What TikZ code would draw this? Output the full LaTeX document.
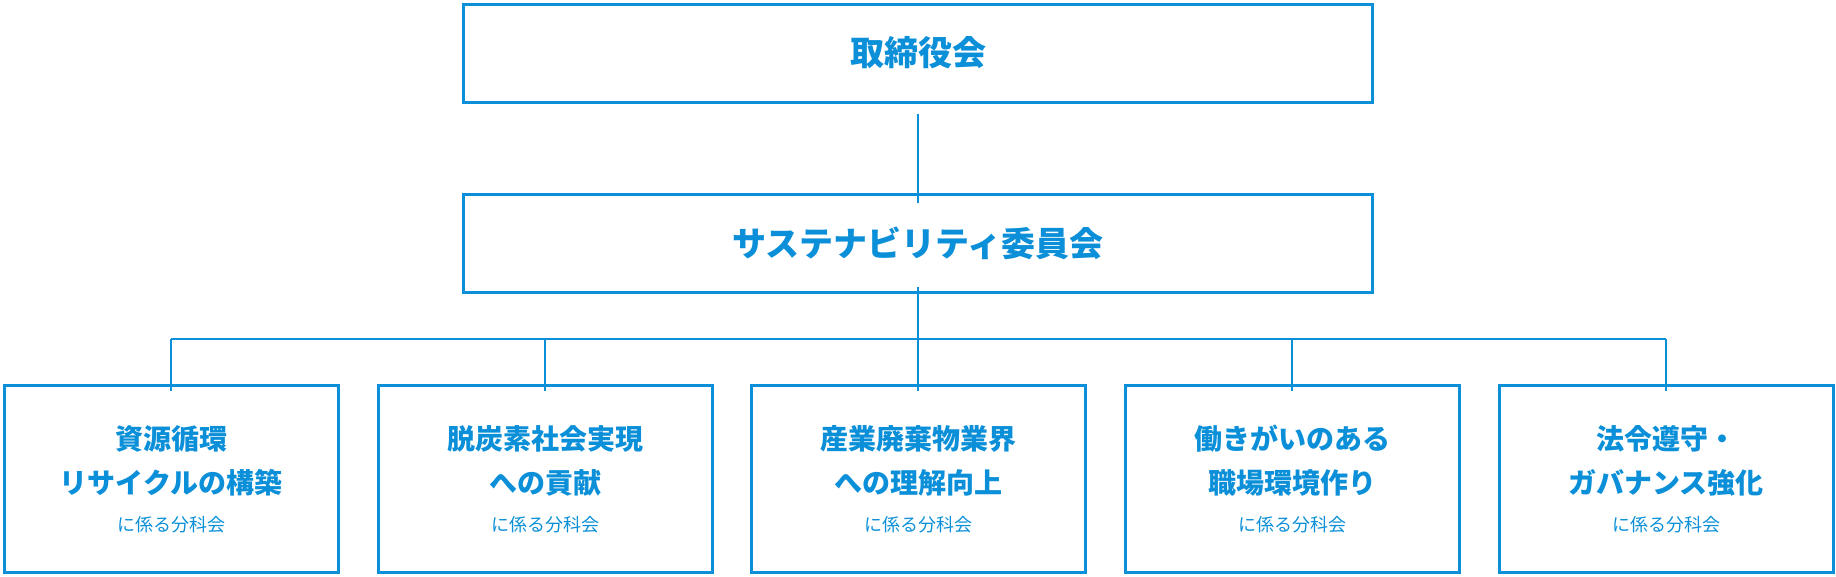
\documentclass[tikz,border=0pt]{standalone}
\usepackage{fontspec}
\setmainfont{Noto Sans CJK JP}
\usetikzlibrary{positioning}
\definecolor{skyblue}{HTML}{0A8FD8}
\tikzset{
  topbox/.style={draw=skyblue, line width=3pt, minimum width=909pt, minimum height=98pt, text=skyblue, font=\fontsize{34}{40}\selectfont\bfseries},
  subbox/.style={draw=skyblue, line width=3pt, minimum width=334pt, minimum height=187pt, text=skyblue, align=center, font=\fontsize{28}{44}\selectfont\bfseries},
  link/.style={skyblue, line width=1.2pt}
}
\newcommand{\subnote}{\fontsize{18}{20}\selectfont\mdseries に係る分科会}
\begin{document}
\begin{tikzpicture}[x=1pt, y=-1pt]
  \useasboundingbox (0,0) rectangle (1836,576);
  % upper boxes
  \node[topbox] (board) at (918,53) {取締役会};
  \node[topbox] (sust) at (918,243) {サステナビリティ委員会};
  % committees
  \node[subbox] (c1) at (171,479) {資源循環\\リサイクルの構築\\[-6pt]{\subnote}};
  \node[subbox] (c2) at (545,479) {脱炭素社会実現\\への貢献\\[-6pt]{\subnote}};
  \node[subbox] (c3) at (918,479) {産業廃棄物業界\\への理解向上\\[-6pt]{\subnote}};
  \node[subbox] (c4) at (1292,479) {働きがいのある\\職場環境作り\\[-6pt]{\subnote}};
  \node[subbox] (c5) at (1666,479) {法令遵守・\\ガバナンス強化\\[-6pt]{\subnote}};
  % connectors
  \coordinate (bus) at (918,339);
  \draw[link] (board.south) ++(0,10) -- ([yshift=-10pt]sust.north);
  \draw[link] ([yshift=7pt]sust.south) -- (bus);
  \foreach \c in {c1,c2,c3,c4,c5}
    \draw[link] (\c.north |- bus) -- ([yshift=-7pt]\c.north);
  \draw[link] (c1.north |- bus) -- (c5.north |- bus);
\end{tikzpicture}
\end{document}
